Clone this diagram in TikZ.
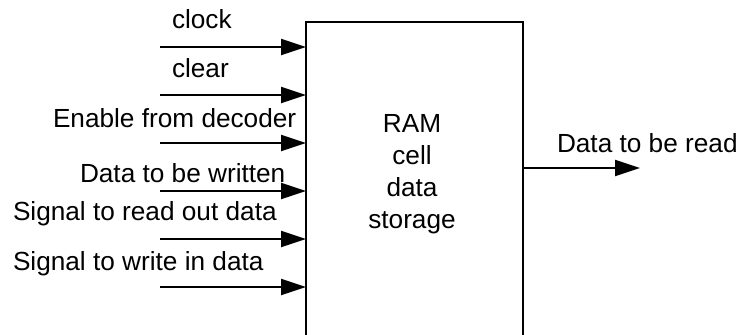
\documentclass[tikz,border=0pt]{standalone}
\usepackage{fontspec}
\setmainfont{Liberation Sans}
\usetikzlibrary{arrows.meta}
\begin{document}
\begin{tikzpicture}[x=0.5pt,y=-0.5pt,
  every node/.style={font=\fontsize{13.1}{16}\selectfont, inner sep=0pt, outer sep=0pt},
  wire/.style={line width=1pt, -{Triangle[length=12.5pt,width=8pt]}},
  lbl/.style={anchor=base west}]
  \clip (0,0) rectangle (742,334);
  \useasboundingbox (0,0) rectangle (742,334);

  % storage block, running past the lower edge
  \node[draw, line width=1pt, minimum width=217*0.5pt, minimum height=400*0.5pt,
        anchor=north] (ram) at (414.5,22) {};
  \node[align=center, anchor=base] (ramtxt) at (412,228)
    {RAM\\cell\\data\\storage};

  % input lines
  \foreach \name/\y in {clk/47, clr/95, en/143, din/191, rd/239, wr/287}
    \coordinate (\name) at (160,\y);
  \foreach \name in {clk, clr, en, din, rd, wr}
    \draw[wire] (\name) -- (\name -| ram.west);

  \node[lbl] (lclk) at (172,28) {clock};
  \node[lbl] (lclr) at (172,77) {clear};
  \node[lbl] (len)  at (53,127) {Enable from decoder};
  \node[lbl] (ldin) at (80,182) {Data to be written};
  \node[lbl] (lrd)  at (13,220) {Signal to read out data};
  \node[lbl] (lwr)  at (13,270) {Signal to write in data};

  % output line
  \coordinate (dout) at (640,168);
  \draw[wire] (ram.east |- dout) -- (dout);
  \node[lbl] (ldout) at (557,152) {Data to be read};
\end{tikzpicture}
\end{document}
